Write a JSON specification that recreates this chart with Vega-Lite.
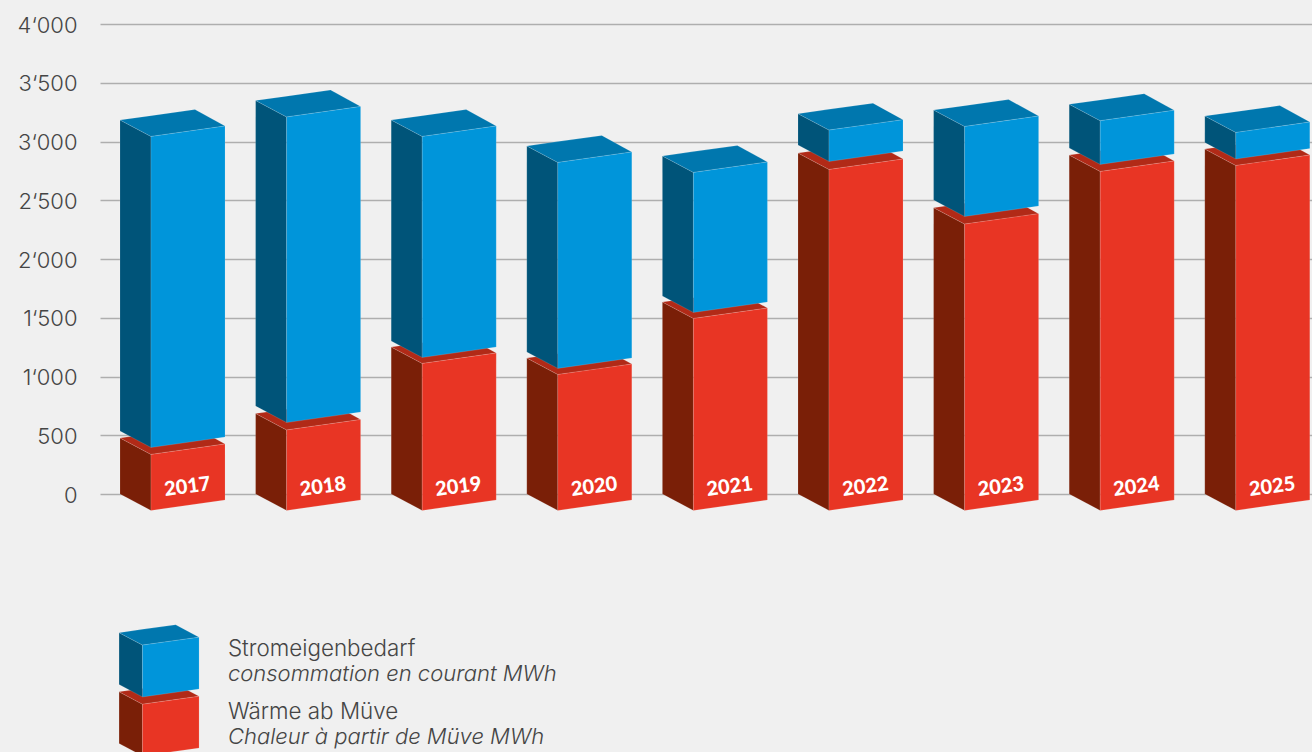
{
  "$schema": "https://vega.github.io/schema/vega-lite/v6.json",
  "width": 1212,
  "height": 752,
  "autosize": {"type": "none"},
  "padding": {"left": 100, "right": 0, "top": 0, "bottom": 0},
  "background": "#f0f0f0",
  "config": {"view": {"stroke": null}, "font": "Inter"},
  "datasets": {
    "bars": [
      {"year": 2017, "series": "heat", "from": 0, "to": 477},
      {"year": 2017, "series": "power", "from": 536, "to": 3183},
      {"year": 2018, "series": "heat", "from": 0, "to": 685},
      {"year": 2018, "series": "power", "from": 748, "to": 3349},
      {"year": 2019, "series": "heat", "from": 0, "to": 1251},
      {"year": 2019, "series": "power", "from": 1302, "to": 3183},
      {"year": 2020, "series": "heat", "from": 0, "to": 1157},
      {"year": 2020, "series": "power", "from": 1209, "to": 2962},
      {"year": 2021, "series": "heat", "from": 0, "to": 1634},
      {"year": 2021, "series": "power", "from": 1685, "to": 2877},
      {"year": 2022, "series": "heat", "from": 0, "to": 2902},
      {"year": 2022, "series": "power", "from": 2970, "to": 3237},
      {"year": 2023, "series": "heat", "from": 0, "to": 2437},
      {"year": 2023, "series": "power", "from": 2502, "to": 3268},
      {"year": 2024, "series": "heat", "from": 0, "to": 2885},
      {"year": 2024, "series": "power", "from": 2945, "to": 3317},
      {"year": 2025, "series": "heat", "from": 0, "to": 2936},
      {"year": 2025, "series": "power", "from": 2991, "to": 3217}
    ],
    "swatches": [
      {"series": "heat"},
      {"series": "power"}
    ],
    "captions": [
      {"series": "power", "italic": false, "text": "Stromeigenbedarf"},
      {"series": "power", "italic": true, "text": "consommation en courant MWh"},
      {"series": "heat", "italic": false, "text": "Wärme ab Müve"},
      {"series": "heat", "italic": true, "text": "Chaleur à partir de Müve MWh"}
    ]
  },
  "layer": [
    {
      "data": {"name": "bars"},
      "transform": [
        {"calculate": "datum.year - 2017", "as": "slot"},
        {"calculate": "[{f:'side',x:0,lo:datum.from,hi:datum.to},{f:'side',x:0.2286,lo:datum.from-140,hi:datum.to-140},{f:'top',x:0,lo:datum.to,hi:datum.to},{f:'top',x:0.2286,lo:datum.to-140,hi:datum.to+37},{f:'top',x:0.553,lo:datum.to-88,hi:datum.to+89},{f:'top',x:0.7745,lo:datum.to-51,hi:datum.to-51},{f:'front',x:0.2286,lo:datum.from-140,hi:datum.to-140},{f:'front',x:0.7745,lo:datum.from-51,hi:datum.to-51}]", "as": "v"},
        {"flatten": ["v"]},
        {"calculate": "datum.slot + datum.v.x", "as": "vx"},
        {"calculate": "datum.v.lo", "as": "vlo"},
        {"calculate": "datum.v.hi", "as": "vhi"},
        {"calculate": "datum.series + '-' + datum.v.f", "as": "shade"},
        {"calculate": "datum.year + '-' + datum.shade", "as": "poly"}
      ],
      "mark": {"type": "area", "orient": "vertical", "stroke": "#ffffff", "strokeOpacity": 0.22, "strokeWidth": 0.6, "opacity": 1},
      "encoding": {
        "x": {"field": "vx", "type": "quantitative", "axis": null, "scale": {"domain": [-0.1475, 8.7906], "nice": false, "zero": false}},
        "y": {
          "field": "vlo", "type": "quantitative",
          "scale": {"domain": [-2195.7, 4204.3], "nice": false, "zero": false},
          "axis": {
            "title": null,
            "values": [0, 500, 1000, 1500, 2000, 2500, 3000, 3500, 4000],
            "grid": true, "gridColor": "#aeaeae", "gridWidth": 1.3,
            "domain": false, "ticks": false,
            "labelPadding": 23, "labelFontSize": 22, "labelFontWeight": 300, "labelColor": "#454545", "labelFont": "Inter", "labelOffset": 1,
            "labelExpr": "replace(format(datum.value, ','), ',', '‘')"
          }
        },
        "y2": {"field": "vhi"},
        "detail": {"field": "poly"},
        "color": {
          "field": "shade", "type": "nominal", "legend": null,
          "scale": {
            "domain": ["heat-side", "heat-top", "heat-front", "power-side", "power-top", "power-front"],
            "range": ["#7a1f07", "#b12a17", "#e83524", "#005479", "#0077ae", "#0095da"]
          }
        }
      }
    },
    {
      "data": {"name": "bars"},
      "transform": [
        {"filter": "datum.series === 'heat'"},
        {"calculate": "datum.year - 2017 + 0.497", "as": "lx"},
        {"calculate": "60", "as": "ly"},
        {"calculate": "'' + datum.year", "as": "label"}
      ],
      "mark": {"type": "text", "angle": 352.5, "color": "#ffffff", "font": "Lato", "fontWeight": 900, "fontSize": 20, "align": "center", "baseline": "middle"},
      "encoding": {
        "x": {"field": "lx", "type": "quantitative"},
        "y": {"field": "ly", "type": "quantitative"},
        "text": {"field": "label"}
      }
    },
    {
      "data": {"name": "swatches"},
      "transform": [
        {"calculate": "datum.series === 'heat' ? -2123 : -1621", "as": "from"},
        {"calculate": "datum.series === 'heat' ? -1683 : -1180", "as": "to"},
        {"calculate": "[{f:'side',x:0,lo:datum.from,hi:datum.to},{f:'side',x:0.1726,lo:datum.from-106,hi:datum.to-106},{f:'top',x:0,lo:datum.to,hi:datum.to},{f:'top',x:0.1726,lo:datum.to-106,hi:datum.to+28},{f:'top',x:0.4175,lo:datum.to-66,hi:datum.to+67},{f:'top',x:0.5901,lo:datum.to-39,hi:datum.to-39},{f:'front',x:0.1726,lo:datum.from-106,hi:datum.to-106},{f:'front',x:0.5901,lo:datum.from-39,hi:datum.to-39}]", "as": "v"},
        {"flatten": ["v"]},
        {"calculate": "-0.007 + datum.v.x", "as": "vx"},
        {"calculate": "datum.v.lo", "as": "vlo"},
        {"calculate": "datum.v.hi", "as": "vhi"},
        {"calculate": "datum.series + '-' + datum.v.f", "as": "shade"}
      ],
      "mark": {"type": "area", "orient": "vertical", "stroke": "#ffffff", "strokeOpacity": 0.22, "strokeWidth": 0.6, "opacity": 1},
      "encoding": {
        "x": {"field": "vx", "type": "quantitative"},
        "y": {"field": "vlo", "type": "quantitative"},
        "y2": {"field": "vhi"},
        "detail": {"field": "shade"},
        "color": {"field": "shade", "type": "nominal", "legend": null}
      }
    },
    {
      "data": {"name": "captions"},
      "transform": [
        {"filter": "!datum.italic"},
        {"calculate": "0.796", "as": "lx"},
        {"calculate": "datum.series === 'power' ? -1319 : -1855", "as": "ly"}
      ],
      "mark": {"type": "text", "font": "Inter", "fontWeight": 300, "fontSize": 22.4, "color": "#454545", "align": "left", "baseline": "middle"},
      "encoding": {
        "x": {"field": "lx", "type": "quantitative"},
        "y": {"field": "ly", "type": "quantitative"},
        "text": {"field": "text"}
      }
    },
    {
      "data": {"name": "captions"},
      "transform": [
        {"filter": "datum.italic"},
        {"calculate": "0.796", "as": "lx"},
        {"calculate": "datum.series === 'power' ? -1531 : -2068", "as": "ly"}
      ],
      "mark": {"type": "text", "font": "Inter", "fontWeight": 300, "fontStyle": "italic", "fontSize": 22, "color": "#454545", "align": "left", "baseline": "middle"},
      "encoding": {
        "x": {"field": "lx", "type": "quantitative"},
        "y": {"field": "ly", "type": "quantitative"},
        "text": {"field": "text"}
      }
    }
  ]
}
